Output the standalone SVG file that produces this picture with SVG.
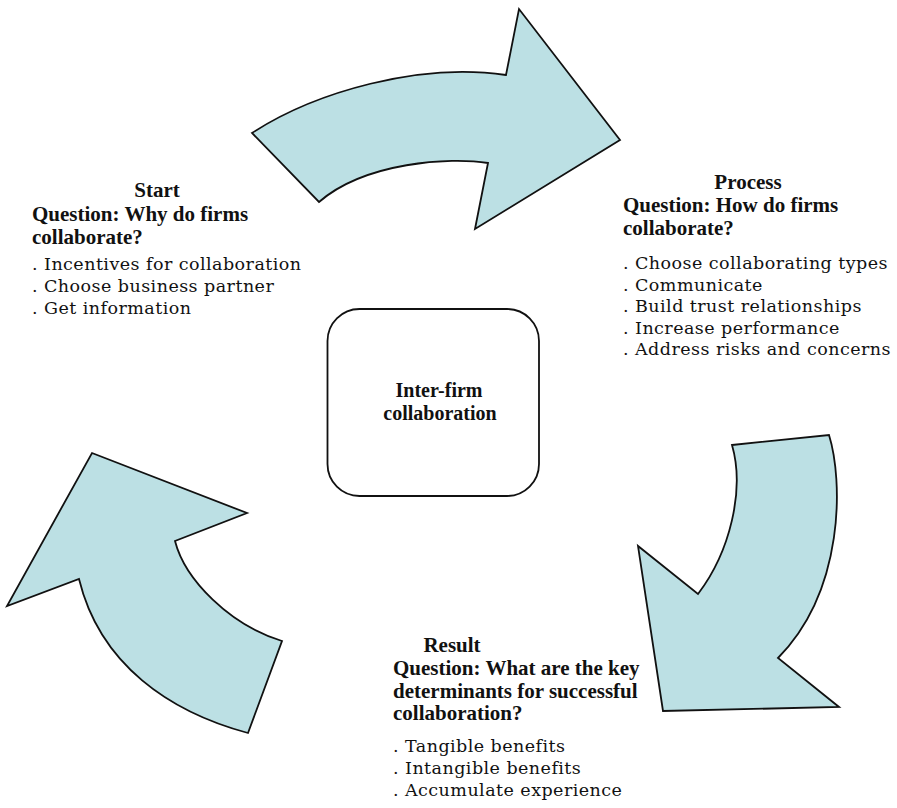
<svg xmlns="http://www.w3.org/2000/svg" width="897" height="808" viewBox="0 0 897 808">
  <style>
    .arrow { fill: #bce0e4; stroke: #111; stroke-width: 1.8; stroke-linejoin: miter; }
    .box { fill: #fff; stroke: #111; stroke-width: 1.8; }
    .hd { font-family: "Liberation Serif", "Times New Roman", serif; font-weight: bold; font-size: 21px; fill: #111; }
    .ctr { font-family: "Liberation Serif", "Times New Roman", serif; font-weight: bold; font-size: 20px; fill: #111; text-anchor: middle; }
    .item { font-family: "DejaVu Serif", "Liberation Serif", serif; font-size: 17.5px; letter-spacing: 0.45px; fill: #111; }
  </style>
  <rect width="897" height="808" fill="#fff"/>

  <!-- cycle arrows -->
  <g id="connectors">
    <path id="arrow-start-process" class="arrow"
          d="M252,133 C315,92 420,62 506,75 L519,9 L620,140 L475,229 L488,163 C450,157 365,162 319,202 Z"/>
    <path id="arrow-process-result" class="arrow"
          d="M732,445 L829,435 C843,480 845,590 778,658 L839,707 L663,711 L638,546 L698,594 C730,552 745,490 732,445 Z"/>
    <path id="arrow-result-start" class="arrow"
          d="M92,453 L247,513 L175,541 C185,580 230,625 282,641 L248,733 C170,712 100,665 79,579 L7,606 Z"/>
  </g>

  <!-- central node -->
  <g id="center">
    <rect class="box" x="327.5" y="309" width="211.5" height="187" rx="32" ry="32"/>
    <text class="ctr" x="439" y="397">Inter-firm</text>
    <text class="ctr" x="440" y="420">collaboration</text>
  </g>

  <!-- stage: start -->
  <g id="start">
    <text class="hd" x="157" y="197" text-anchor="middle">Start</text>
    <text class="hd" x="32" y="221">Question: Why do firms</text>
    <text class="hd" x="32" y="244">collaborate?</text>
    <text class="item" x="32" y="270">. Incentives for collaboration</text>
    <text class="item" x="32" y="292">. Choose business partner</text>
    <text class="item" x="32" y="314">. Get information</text>
  </g>

  <!-- stage: process -->
  <g id="process">
    <text class="hd" x="748" y="189" text-anchor="middle">Process</text>
    <text class="hd" x="623" y="212">Question: How do firms</text>
    <text class="hd" x="623" y="235">collaborate?</text>
    <text class="item" x="623" y="269">. Choose collaborating types</text>
    <text class="item" x="623" y="290.5">. Communicate</text>
    <text class="item" x="623" y="312">. Build trust relationships</text>
    <text class="item" x="623" y="333.5">. Increase performance</text>
    <text class="item" x="623" y="355">. Address risks and concerns</text>
  </g>

  <!-- stage: result -->
  <g id="result">
    <text class="hd" x="452" y="652" text-anchor="middle">Result</text>
    <text class="hd" x="393" y="675">Question: What are the key</text>
    <text class="hd" x="393" y="697.5">determinants for successful</text>
    <text class="hd" x="393" y="720">collaboration?</text>
    <text class="item" x="393" y="752">. Tangible benefits</text>
    <text class="item" x="393" y="774">. Intangible benefits</text>
    <text class="item" x="393" y="796">. Accumulate experience</text>
  </g>
</svg>
